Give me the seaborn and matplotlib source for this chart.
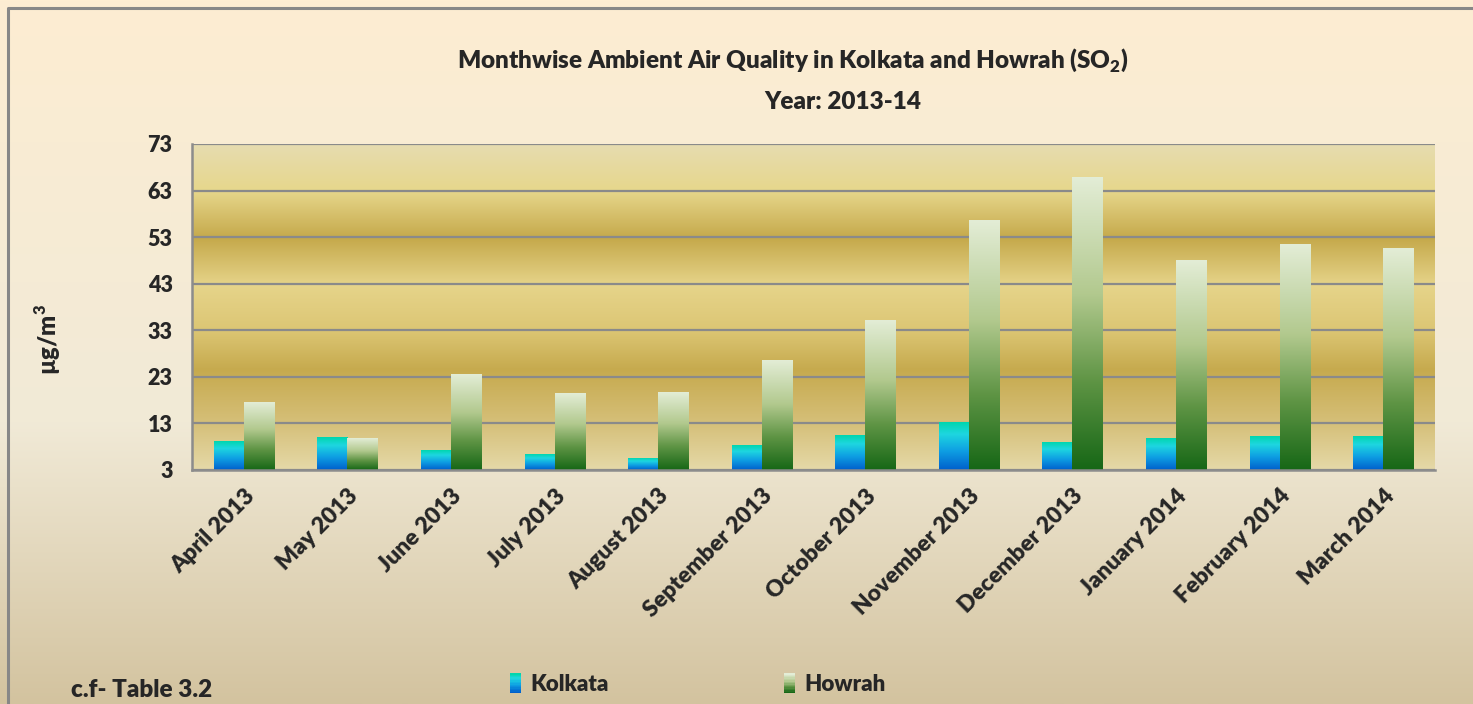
import numpy as np
import pandas as pd
import seaborn as sns
import matplotlib.pyplot as plt
from matplotlib.colors import LinearSegmentedColormap
from matplotlib.patches import Rectangle
from matplotlib.legend_handler import HandlerBase

# Datos (ug/m3)
meses = ['April 2013', 'May 2013', 'June 2013', 'July 2013', 'August 2013',
         'September 2013', 'October 2013', 'November 2013', 'December 2013',
         'January 2014', 'February 2014', 'March 2014']
kolkata = [9.2, 9.9, 7.1, 6.4, 5.4, 8.2, 10.5, 13.3, 8.8, 9.7, 10.3, 10.1]
howrah = [17.4, 9.8, 23.4, 19.5, 19.7, 26.6, 35.0, 56.5, 65.7, 47.9, 51.5, 50.5]
y_ticks = [3, 13, 23, 33, 43, 53, 63, 73]

# Degradados (de arriba hacia abajo)
grad_kolkata = [(0.0, '#00D6AE'), (0.25, '#1ED6E0'), (0.6, '#0E9FE3'), (1.0, '#005FCC')]
grad_howrah = [(0.0, '#E3EDD6'), (0.4, '#B2C98E'), (0.7, '#5E9444'), (1.0, '#166716')]
grad_fondo = [(0.0, '#FDEDD2'), (0.6, '#F1EAD7'), (1.0, '#D3C39F')]
grad_ejes = [(0.0, '#E6DCB0'), (0.141, '#E7D78C'), (0.288, '#C5A94B'), (0.433, '#E6D48A'),
             (0.571, '#DCC674'), (0.693, '#C6AA4E'), (0.862, '#D6C07A'), (1.0, '#E5D9A8')]

PESO = 'heavy'


def rampa(stops, n=256):
    cmap = LinearSegmentedColormap.from_list('g', stops)
    return cmap(np.linspace(0, 1, n))[:, None, :3]


class HandlerDegradado(HandlerBase):
    def __init__(self, stops):
        super().__init__()
        self.stops = stops

    def create_artists(self, legend, orig_handle, xdescent, ydescent, width, height, fontsize, trans):
        cols = rampa(self.stops, 14)[:, 0, :]
        n = len(cols)
        arts = []
        for i, c in enumerate(cols):
            arts.append(Rectangle((-xdescent, -ydescent + height * (n - 1 - i) / n), width, height / n + 0.05,
                                  facecolor=c, edgecolor='none', transform=trans))
        return arts


sns.set_style('white')
plt.rcParams['font.family'] = ['Lato', 'DejaVu Sans']
plt.rcParams['font.weight'] = PESO
plt.rcParams['mathtext.fontset'] = 'custom'
plt.rcParams['mathtext.rm'] = 'Lato:heavy'
plt.rcParams['mathtext.bf'] = 'Lato:heavy'

df = pd.DataFrame({
    'Mes': meses * 2,
    'Valor': kolkata + howrah,
    'Ciudad': ['Kolkata'] * len(meses) + ['Howrah'] * len(meses),
})

W, H = 1473, 704
fig = plt.figure(figsize=(W / 100, H / 100), dpi=100)

# Fondo de la figura
bg = fig.add_axes([0, 0, 1, 1], zorder=-10)
bg.imshow(rampa(grad_fondo), aspect='auto', extent=[0, 1, 0, 1])
bg.plot([8 / W, 8 / W, 1.2], [-0.2, 1 - 8 / H, 1 - 8 / H], color='#878787', lw=2.2, clip_on=False)
bg.set_xlim(0, 1)
bg.set_ylim(0, 1)
bg.axis('off')

ax = fig.add_axes([192 / W, 1 - 470 / H, (1435 - 192) / W, (470 - 144) / H])
ax.patch.set_visible(False)
ax.imshow(rampa(grad_ejes), aspect='auto', extent=[0, 1, 0, 1], transform=ax.transAxes, zorder=0.2)

sns.barplot(data=df, x='Mes', y='Valor', hue='Ciudad', hue_order=['Kolkata', 'Howrah'],
            order=meses, width=0.58, gap=0, errorbar=None, legend=False, ax=ax,
            palette={'Kolkata': '#1ED6E0', 'Howrah': '#7FA860'})

for cont, stops in zip(ax.containers, [grad_kolkata, grad_howrah]):
    for p in cont:
        x, w, h = p.get_x(), p.get_width(), p.get_height()
        p.set_visible(False)
        ax.imshow(rampa(stops), aspect='auto', extent=[x, x + w, 3, h], zorder=2)

ax.set_xlim(-0.5, len(meses) - 0.5)
ax.set_ylim(3, 73)
ax.set_yticks(y_ticks)
ax.set_xticks(range(len(meses)))
ax.set_xticks(np.arange(-0.5, len(meses), 1), minor=True)
ax.set_xticklabels(meses, rotation=45, ha='right', va='top', rotation_mode='anchor', fontsize=16.5)
ax.tick_params(axis='x', which='major', length=0, pad=11)
ax.tick_params(axis='x', which='minor', length=7, width=1.6, color='#8C8C8C', direction='out')
ax.tick_params(axis='y', length=7, width=1.6, color='#8C8C8C', direction='out', labelsize=15.5, pad=7)
for lbl in ax.get_yticklabels() + ax.get_xticklabels():
    lbl.set_fontweight(PESO)

ax.set_axisbelow(True)
ax.yaxis.grid(True, color='#8A8A8A', linewidth=1.6)
ax.xaxis.grid(False)
for lado in ['top', 'right']:
    ax.spines[lado].set_visible(False)
for lado in ['left', 'bottom']:
    ax.spines[lado].set_color('#8C8C8C')
    ax.spines[lado].set_linewidth(1.8)

ax.set_xlabel('')
ax.set_ylabel('µg/m$^\\mathbf{3}$', fontsize=17, fontweight=PESO)
ax.yaxis.set_label_coords(-0.104, 0.40)

# Titulos
fig.text(793 / W, 1 - 60 / H, 'Monthwise Ambient Air Quality in Kolkata and Howrah (SO$_\\mathbf{2}$)',
         ha='center', va='center', fontsize=17.5, fontweight=PESO)
fig.text(843 / W, 1 - 102 / H, 'Year: 2013-14', ha='center', va='center', fontsize=17.5, fontweight=PESO)
fig.text(71 / W, 1 - 690 / H, 'c.f- Table 3.2', ha='left', va='center', fontsize=17.5, fontweight=PESO)

# Leyenda con degradados
h1 = Rectangle((0, 0), 1, 1)
h2 = Rectangle((0, 0), 1, 1)
fig.legend([h1, h2], ['Kolkata', 'Howrah'], loc='center left',
           bbox_to_anchor=(490 / W, 1 - 684 / H), ncol=2, frameon=False,
           handlelength=0.5, handleheight=1.0, handletextpad=0.4, columnspacing=7.9,
           prop={'weight': PESO, 'size': 16},
           handler_map={h1: HandlerDegradado(grad_kolkata), h2: HandlerDegradado(grad_howrah)})

plt.savefig('out.png', dpi=100)
plt.close()
